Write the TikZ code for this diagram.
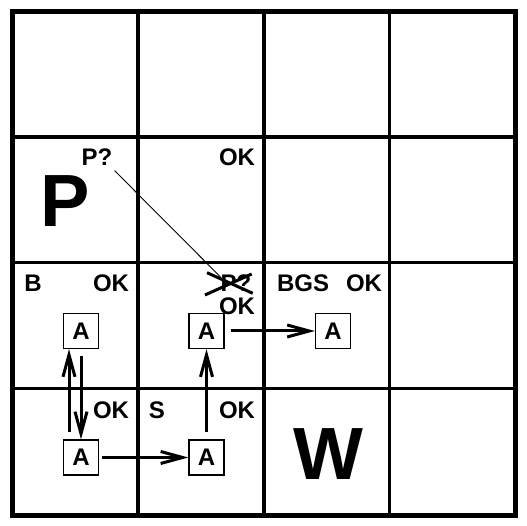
\documentclass[tikz,border=0pt]{standalone}
\usepackage{fontspec}
\setmainfont{Liberation Sans}
\usetikzlibrary{arrows.meta}
\tikzset{
  lbl/.style={inner sep=0pt, font=\bfseries\fontsize{24}{24}\selectfont},
  big/.style={inner sep=0pt, font=\bfseries\fontsize{74}{74}\selectfont},
  agent/.style={draw, line width=1.3pt, minimum width=35pt, minimum height=35pt, inner sep=0pt, font=\bfseries\fontsize{24}{24}\selectfont},
  arr/.style={line width=3pt, -{Straight Barb[length=22pt, width=12pt, line width=3pt]}},
  inner/.style={line width=3.5pt},
  outer/.style={line width=5pt}
}
\begin{document}
\begin{tikzpicture}[x=1pt,y=-1pt]
\useasboundingbox (0,0) rectangle (527,526);
% grid
\foreach \v in {138.1,263.75,389.4} {
  \draw[inner] (\v,12) -- (\v,515);
  \draw[inner] (12.5,\v-1) -- (515,\v-1);
}
\draw[outer] (12.5,12) rectangle (515,515);
% labels
\node[lbl] (p2q) at (97,157) {P?};
\node[lbl] (ok12) at (237,157) {OK};
\node[big] (bigP) at (65,201) {P};
\node[lbl] (b) at (33,283.5) {B};
\node[lbl] (ok21) at (111,283.5) {OK};
\node[lbl] (pq2) at (236,283.5) {P?};
\node[lbl] (ok22) at (237,306) {OK};
\node[lbl] (bgs) at (303,283.5) {BGS};
\node[lbl] (ok23) at (364,283.5) {OK};
\node[lbl] (ok31) at (111,410) {OK};
\node[lbl] (s) at (157,410) {S};
\node[lbl] (ok32) at (237,410) {OK};
\node[big] (W) at (328,454) {W};
% cross and connector
\draw[line width=0.9pt] ([shift={(2,5)}]p2q.south east) -- ([shift={(0,2)}]pq2.north west);
\draw[line width=3pt] (207,272.7) -- (252.7,293.3);
\draw[line width=3pt] (205,295) -- (251.7,274);
% agents
\node[agent] (a1) at (81,331) {A};
\node[agent] (a2) at (206.5,331) {A};
\node[agent] (a3) at (333,331) {A};
\node[agent] (a4) at (81,457.5) {A};
\node[agent] (a5) at (206.5,457.5) {A};
% arrows
\draw[arr, shorten <=3pt] (a4.east) -- (a5.west);
\draw[arr, shorten <=7pt] (a5.north) -- (a2.south);
\draw[arr, shorten <=6pt] (a2.east) -- (a3.west);
\draw[arr, shorten <=7pt] ([xshift=-12pt]a4.north) -- ([xshift=-12pt]a1.south);
\draw[arr, shorten <=7pt] (a1.south) -- (a4.north);
\end{tikzpicture}
\end{document}
